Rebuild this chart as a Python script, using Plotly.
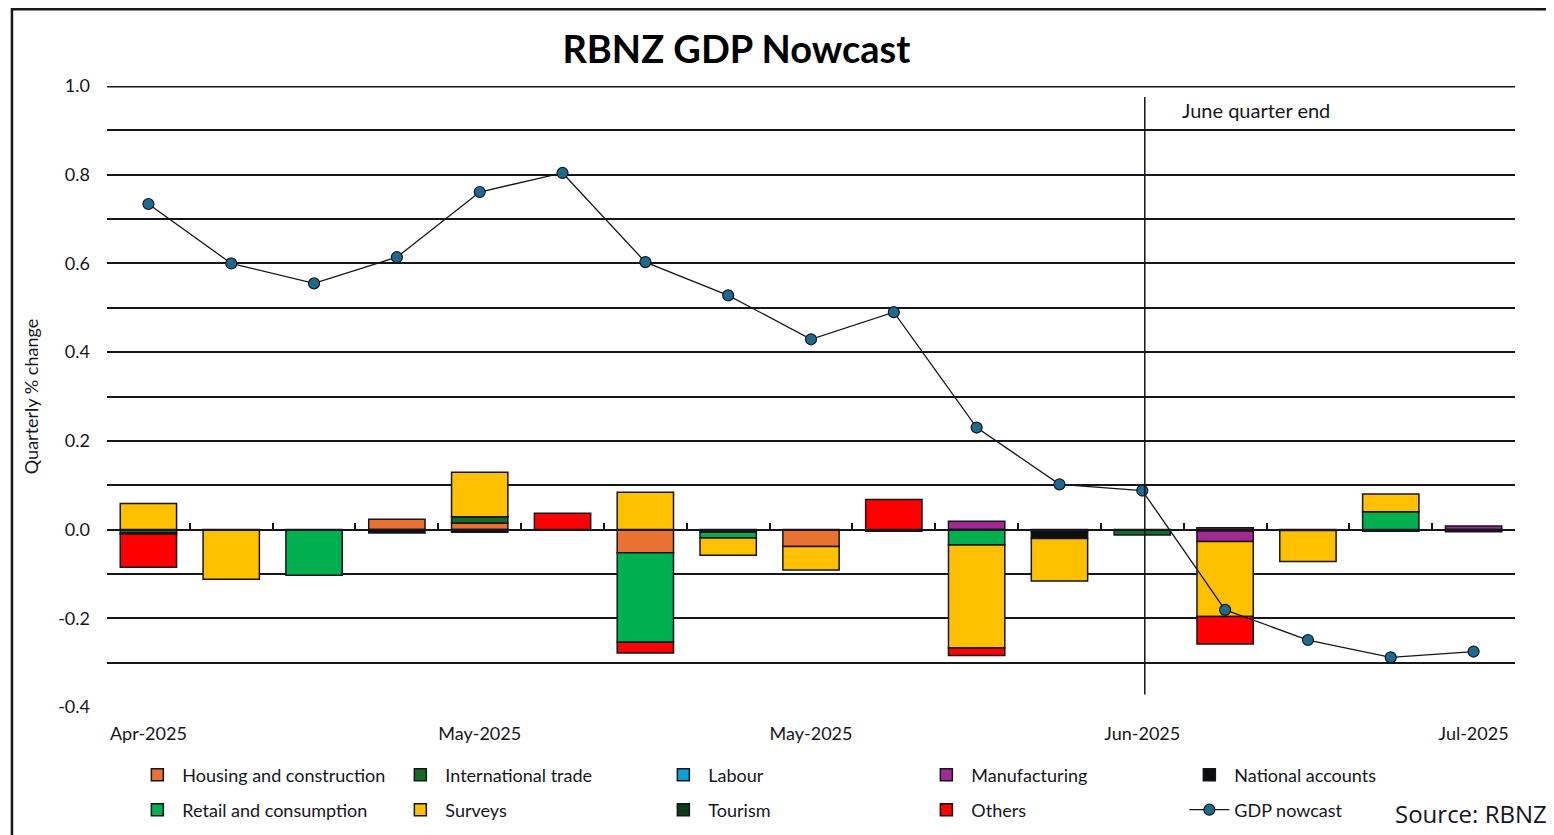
import plotly.graph_objects as go

# weekly nowcast runs, Apr-Jul 2025
tick_pos = [0, 4, 8, 12, 16]
tick_text = ["Apr-2025", "May-2025", "May-2025", "Jun-2025", "Jul-2025"]
ytick_vals = [-0.4, -0.2, 0.0, 0.2, 0.4, 0.6, 0.8, 1.0]
ytick_text = ["-0.4", "-0.2", "0.0", "0.2", "0.4", "0.6", "0.8", "1.0"]

housing = [None, None, None, 0.023, 0.015, None, -0.052, None, -0.038, None, None, -0.003, None, 0.004, None, None, None]
intl_trade = [-0.007, None, None, None, 0.014, None, None, None, None, None, None, None, -0.012, None, None, None, None]
labour = [None, None, None, None, None, None, None, None, None, None, None, None, None, -0.003, None, None, None]
manufacturing = [None, None, None, None, None, None, None, None, None, -0.004, 0.019, None, None, -0.024, None, None, 0.008]
national_accounts = [-0.003, None, None, -0.008, -0.006, None, None, -0.006, None, None, None, -0.017, None, None, -0.002, -0.004, -0.005]
retail = [None, None, -0.103, None, None, None, -0.202, -0.013, None, None, -0.035, None, None, None, None, 0.040, None]
surveys = [0.059, -0.112, None, None, 0.100, None, 0.084, -0.039, -0.053, None, -0.232, -0.096, None, -0.169, -0.070, 0.040, None]
tourism = [None] * 17
others = [-0.075, None, None, None, None, 0.037, -0.024, None, None, 0.068, -0.017, None, None, -0.062, None, None, None]

gdp_nowcast = [0.734, 0.600, 0.555, 0.614, 0.761, 0.804, 0.603, 0.528, 0.429, 0.490,
               0.230, 0.102, 0.088, -0.181, -0.249, -0.288, -0.275]

x = list(range(len(gdp_nowcast)))

# name, values, colour, legend row
series = [
    ("Housing and construction", housing, "#E97132", "legend"),
    ("International trade", intl_trade, "#196B24", "legend"),
    ("Labour", labour, "#0F9ED5", "legend"),
    ("Manufacturing", manufacturing, "#A02B93", "legend"),
    ("National accounts", national_accounts, "#0E0E0E", "legend"),
    ("Retail and consumption", retail, "#00B050", "legend2"),
    ("Surveys", surveys, "#FFC000", "legend2"),
    ("Tourism", tourism, "#0F3D1A", "legend2"),
    ("Others", others, "#FF0000", "legend2"),
]

FONT = "Lato"
INK = "#15151f"

fig = go.Figure()

for name, vals, col, leg in series:
    fig.add_trace(go.Bar(
        x=x, y=vals, name=name, width=0.68, legend=leg,
        marker=dict(color=col, line=dict(color=INK, width=1.5)),
    ))

fig.add_trace(go.Scatter(
    x=x, y=gdp_nowcast, name="GDP nowcast", mode="lines+markers", legend="legend2",
    line=dict(color=INK, width=1.3),
    marker=dict(size=11, color="#1D6A8A", line=dict(color=INK, width=1.2)),
))

# helper trace so the zero-line axis gets drawn
fig.add_trace(go.Scatter(x=[0], y=[0], xaxis="x2", mode="markers",
                         marker=dict(opacity=0), showlegend=False, hoverinfo="skip"))

# top gridline (plotly drops the one at the range edge)
fig.add_shape(type="line", xref="paper", yref="y", x0=0, x1=1, y0=0.999, y1=0.999,
              line=dict(color=INK, width=2))

# June quarter end marker
fig.add_shape(type="line", x0=12.03, x1=12.03, y0=-0.372, y1=0.975,
              xref="x", yref="y", line=dict(color=INK, width=1.5))
fig.add_annotation(x=12.45, y=0.946, xref="x", yref="y", text="June quarter end",
                   showarrow=False, xanchor="left", yanchor="middle",
                   font=dict(family=FONT, size=20, color=INK))

# outer frame
fig.add_shape(type="rect", xref="paper", yref="paper",
              x0=-0.0675, x1=1.06, y0=-0.3, y1=1.1235,
              line=dict(color=INK, width=2.5), layer="below")

fig.add_annotation(x=1.0, y=-0.172, xref="paper", yref="paper", text="Source: RBNZ",
                   showarrow=False, xanchor="right", yanchor="middle", xshift=34,
                   font=dict(family="Open Sans", size=24, color=INK))

legend_common = dict(orientation="h", xanchor="left", yanchor="middle",
                     entrywidth=208, entrywidthmode="pixels", traceorder="normal",
                     font=dict(family=FONT, size=18, color=INK), itemwidth=40,
                     bgcolor="rgba(0,0,0,0)")

fig.update_layout(
    width=1546, height=827,
    margin=dict(l=99, r=39, t=78, b=128, autoexpand=False),
    paper_bgcolor="white", plot_bgcolor="white",
    barmode="relative",
    title=dict(text="<b>RBNZ GDP Nowcast</b>", x=0.447, xref="paper", xanchor="center",
               y=1 - 42 / 827, yanchor="middle", font=dict(family=FONT, size=38, color="black")),
    font=dict(family=FONT, size=16, color=INK),
    xaxis=dict(range=[-0.5, 16.5], tickvals=tick_pos, ticktext=tick_text,
               showgrid=False, zeroline=False, showline=True, linecolor="white", linewidth=3,
               ticks="", ticklabelstandoff=8, tickfont=dict(size=18)),
    xaxis2=dict(range=[-0.5, 16.5], overlaying="x", anchor="free", position=0.4 / 1.4,
                side="bottom", showline=True, linecolor=INK, linewidth=1.5,
                ticks="inside", ticklen=6, tickwidth=1.5, tickcolor=INK,
                tickvals=[i + 0.5 for i in range(-1, 17)], showticklabels=False,
                showgrid=False, zeroline=False),
    yaxis=dict(range=[-0.4, 1.0], tickvals=ytick_vals, ticktext=ytick_text,
               showgrid=True, gridcolor=INK, gridwidth=1.5,
               minor=dict(dtick=0.1, showgrid=True, gridcolor=INK, gridwidth=1.5),
               zeroline=False, ticks="", ticklabelstandoff=16, tickfont=dict(size=18),
               title=dict(text="Quarterly % change", standoff=14, font=dict(size=18))),
    legend=dict(x=0.018, y=-0.1095, **legend_common),
    legend2=dict(x=0.018, y=-0.1659, **legend_common),
)

fig.write_html("out.html")
